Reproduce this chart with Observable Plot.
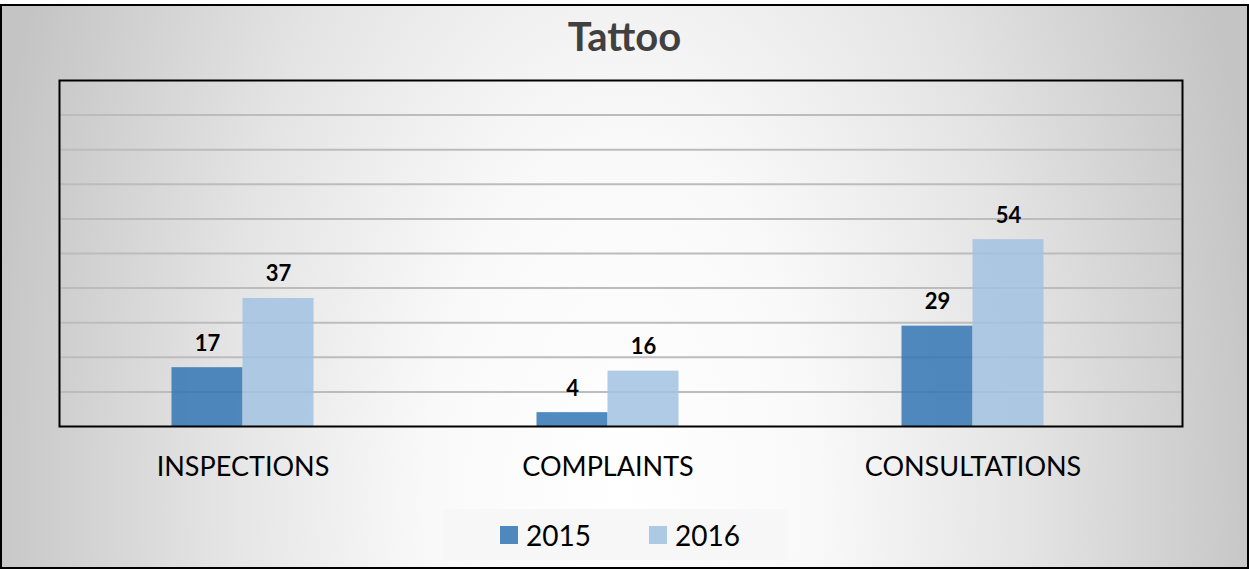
<!DOCTYPE html>
<html><head><meta charset="utf-8">
<script src="https://cdn.jsdelivr.net/npm/d3@7"></script>
<script src="https://cdn.jsdelivr.net/npm/@observablehq/plot@0.6"></script>
<style>
body{margin:0;background:#fff;font-family:Lato,"Open Sans",sans-serif;}
#wrap{position:relative;width:1249px;height:569px;overflow:hidden;}
#bg{position:absolute;left:0;top:4px;width:1249px;height:565px;box-sizing:border-box;border:2px solid #000;
  background:radial-gradient(ellipse 650px 1200px at 620px 495px, #ffffff 0%, #f9f9f9 30%, #e4e4e4 62%, #c4c4c4 100%);}
#title{position:absolute;top:12px;left:0;width:1249px;text-align:center;font-weight:bold;font-size:40px;line-height:48px;color:#404040;}
#chart{position:absolute;left:0;top:0;}
#legend{position:absolute;left:443px;top:509px;width:344px;height:51px;background:#f7f7f7;display:flex;align-items:center;justify-content:center;padding-left:10px;box-sizing:border-box;}
.item{display:flex;align-items:center;font-size:28px;color:#000;margin:0 29px;}
.sw{width:18px;height:18px;margin-right:8px;}
</style>
</head><body>
<div id="wrap">
  <div id="bg"></div>
  <div id="title"></div>
  <div id="chart"></div>
  <div id="legend"></div>
</div>
<script>
const title = "Tattoo";
const categories = ["INSPECTIONS", "COMPLAINTS", "CONSULTATIONS"];
const years = ["2015", "2016"];
const values2015 = [17, 4, 29];
const values2016 = [37, 16, 54];
const gridTicks = [10, 20, 30, 40, 50, 60, 70, 80, 90];
const yMax = 100;
const colors = ["#3375b4", "#a1c2e2"];
const legendColors = ["#4f88bd", "#adc9e4"];

const rows15 = categories.map((c, i) => ({category: c, year: years[0], value: values2015[i]}));
const rows16 = categories.map((c, i) => ({category: c, year: years[1], value: values2016[i]}));

document.getElementById("title").textContent = title;

const chart = Plot.plot({
  width: 1249,
  height: 500,
  marginTop: 80,
  marginBottom: 74,
  marginLeft: 59,
  marginRight: 67,
  style: {background: "transparent", fontFamily: "Lato, 'Open Sans', sans-serif"},
  x: {type: "band", domain: categories, paddingInner: 0.8056, paddingOuter: 0.4028, insetRight: 27, label: null},
  y: {domain: [0, yMax], axis: null},
  marks: [
    Plot.ruleY(gridTicks, {stroke: "#bcbcbc", strokeWidth: 2}),
    Plot.barY(rows15, {x: "category", y: "value", fill: colors[0], fillOpacity: 0.85, dx: -35.5}),
    Plot.barY(rows16, {x: "category", y: "value", fill: colors[1], fillOpacity: 0.85, dx: 35.5}),
    Plot.text(rows15, {x: "category", y: "value", text: d => String(d.value), dx: -35.5, dy: -17, lineAnchor: "bottom", fontSize: 22, fontWeight: "bold", fill: "#000"}),
    Plot.text(rows16, {x: "category", y: "value", text: d => String(d.value), dx: 35.5, dy: -17, lineAnchor: "bottom", fontSize: 22, fontWeight: "bold", fill: "#000"}),
    Plot.frame({stroke: "#000", strokeWidth: 2}),
    Plot.axisX({tickSize: 0, tickPadding: 30, fontSize: 27, fill: "#000"})
  ]
});
document.getElementById("chart").appendChild(chart);

const legend = document.getElementById("legend");
years.forEach((y, i) => {
  const item = document.createElement("div");
  item.className = "item";
  const sw = document.createElement("div");
  sw.className = "sw";
  sw.style.background = legendColors[i];
  const t = document.createElement("span");
  t.textContent = y;
  item.appendChild(sw);
  item.appendChild(t);
  legend.appendChild(item);
});
</script>
</body></html>
